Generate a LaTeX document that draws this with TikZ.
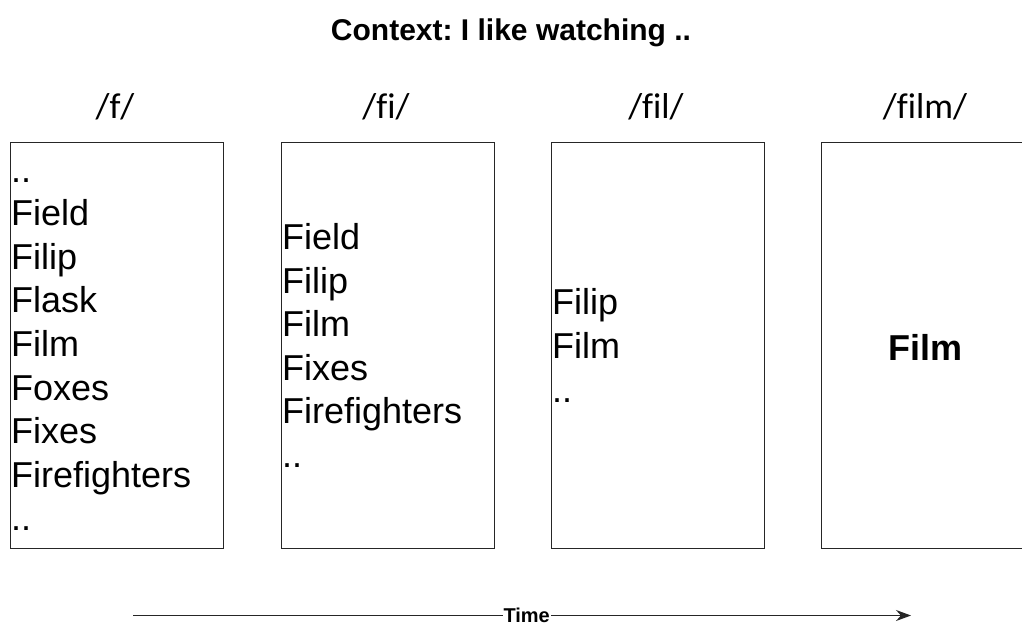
\documentclass[tikz,border=0pt]{standalone}
\usepackage{fontspec}
\setmainfont{Liberation Sans}
\newfontfamily\headfont[Ligatures={NoCommon}]{Carlito}
\usetikzlibrary{arrows.meta}
\begin{document}
\frenchspacing
\begin{tikzpicture}[x=1pt,y=-1pt,
  stage/.style={draw=black!85,line width=1.3pt,minimum width=213pt,minimum height=406pt,inner sep=0pt},
  words/.style={inner sep=0pt,align=left,anchor=west,font=\fontsize{36}{43.6}\selectfont},
  phon/.style={inner sep=0pt,anchor=base,font=\headfont\fontsize{36}{40}\selectfont},
  timeline/.style={draw=black!85,line width=1.3pt,-{Stealth[length=15pt,width=11pt]}}]
\useasboundingbox (0,0) rectangle (1022,625);
\begin{scope}
\clip (0,0) rectangle (1022,625);

\node[font=\fontsize{30}{34}\selectfont\bfseries,inner sep=0pt] (ctx) at (511,33) {Context: I like watching ..};

% phoneme headings
\node[phon] (h1) at (115,118) {/f/};
\node[phon] (h2) at (386,118) {/fi/};
\node[phon] (h3) at (656,118) {/fil/};
\node[phon] (h4) at (925,118) {/film/};

% candidate boxes
\node[stage] (b1) at (117,345.5) {};
\node[stage] (b2) at (388,345.5) {};
\node[stage] (b3) at (658,345.5) {};
\node[stage] (b4) at (928,345.5) {};

\node[words] (w1) at ([xshift=1pt,yshift=-9pt]b1.west) {..\\Field\\Filip\\Flask\\Film\\Foxes\\Fixes\\Firefighters\\..};
\node[words] (w2) at ([xshift=1pt]b2.west) {Field\\Filip\\Film\\Fixes\\Firefighters\\..};
\node[words] (w3) at ([xshift=1pt]b3.west) {Filip\\Film\\..};
\node[font=\fontsize{36}{40}\selectfont\bfseries,inner sep=0pt] (w4) at (925,347) {Film};

% time axis
\coordinate (t0) at (133,615.5);
\coordinate (t1) at (911,615.5);
\draw[timeline] (t0) -- node[fill=white,inner sep=1pt,font=\fontsize{20}{22}\selectfont\bfseries,pos=0.506] (tl) {Time} (t1);
\end{scope}
\end{tikzpicture}
\end{document}
